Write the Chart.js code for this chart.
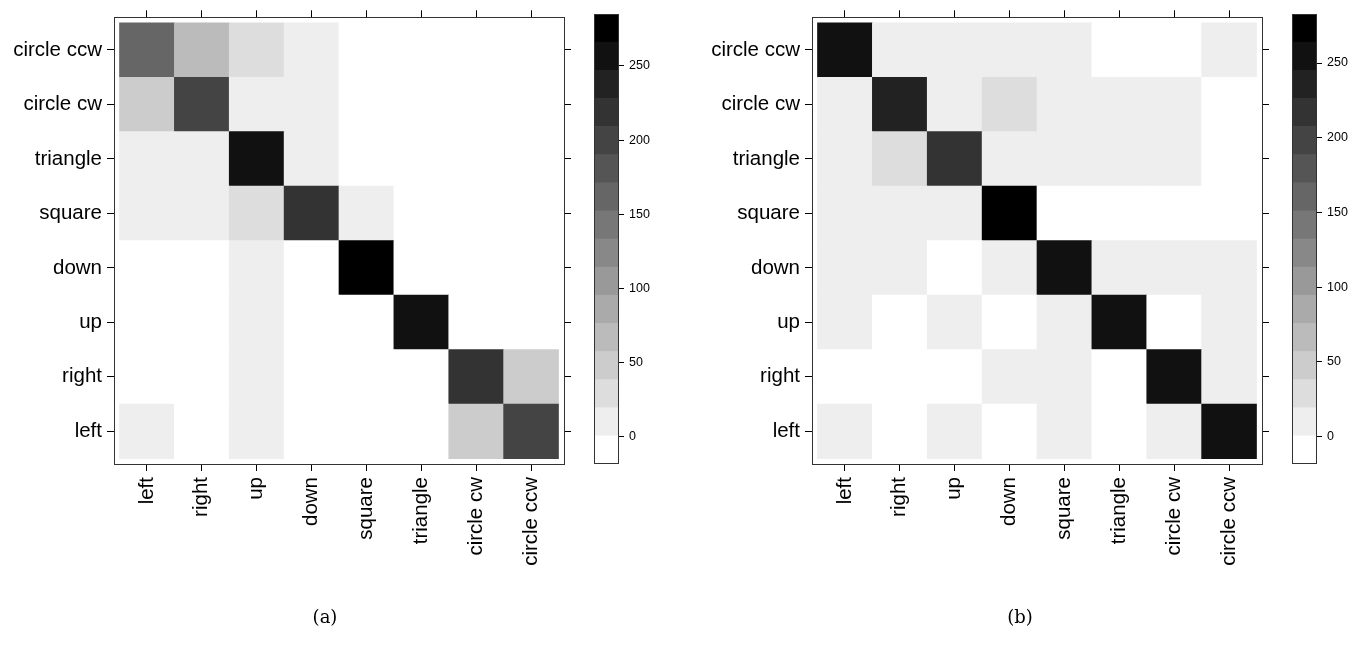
<!DOCTYPE html>
<html lang="en">
<head>
<meta charset="UTF-8">
<title>Gesture confusion matrices</title>
<script src="https://cdn.jsdelivr.net/npm/chart.js"></script>
<style>
  body { margin: 0; background: #fff; width: 1351px; height: 652px; position: relative; overflow: hidden; }
  canvas { position: absolute; top: 0; }
  .cap { position: absolute; top: 606px; font-family: 'DejaVu Serif', 'Liberation Serif', serif; font-size: 18px; color: #000; transform: translateX(-50%); }
</style>
</head>
<body>
<canvas id="heatA" width="580" height="652" style="left:0px"></canvas>
<canvas id="keyA" width="100" height="652" style="left:580px"></canvas>
<canvas id="heatB" width="580" height="652" style="left:698px"></canvas>
<canvas id="keyB" width="73" height="652" style="left:1278px"></canvas>
<div class="cap" style="left:325px">(a)</div>
<div class="cap" style="left:1020px">(b)</div>
<script>
// gesture classes, bottom-to-top on y and left-to-right on x
const classes = ['left', 'right', 'up', 'down', 'square', 'triangle', 'circle cw', 'circle ccw'];

// counts, one row per y class (bottom row first), columns follow x classes
const countsA = [
  [ 10,   0,  10,   0,   0,   0,  48, 198],  // left
  [  0,   0,  10,   0,   0,   0, 218,  48],  // right
  [  0,   0,  10,   0,   0, 256,   0,   0],  // up
  [  0,   0,  10,   0, 270,   0,   0,   0],  // down
  [ 10,  10,  29, 218,  10,   0,   0,   0],  // square
  [ 10,  10, 256,  10,   0,   0,   0,   0],  // triangle
  [ 48, 198,  10,  10,   0,   0,   0,   0],  // circle cw
  [162,  67,  29,  10,   0,   0,   0,   0]   // circle ccw
];
const countsB = [
  [ 10,   0,  10,   0,  10,   0,  10, 254],  // left
  [  0,   0,   0,  10,  10,   0, 254,  10],  // right
  [ 10,   0,  10,   0,  10, 254,   0,  10],  // up
  [ 10,  10,   0,  10, 254,  10,  10,  10],  // down
  [ 10,  10,  10, 270,   0,   0,   0,   0],  // square
  [ 10,  29, 216,  10,  10,  10,  10,   0],  // triangle
  [ 10, 235,  10,  29,  10,  10,  10,   0],  // circle cw
  [254,  10,  10,  10,  10,   0,   0,  10]   // circle ccw
];

// colour key
const keyTicks = [0, 50, 100, 150, 200, 250];
const keyRangeA = [-18.7, 285.1];
const keyRangeB = [-18.3, 282.8];
const grays = ['#ffffff', '#eeeeee', '#dddddd', '#cccccc', '#bbbbbb', '#aaaaaa', '#999999', '#888888',
               '#777777', '#666666', '#555555', '#444444', '#333333', '#222222', '#111111', '#000000'];

const FONT = "'Liberation Sans', Arial, sans-serif";
const FRAME = '#333';
const PAD = 0.1;

function shade(v, range) {
  const w = (range[1] - range[0]) / grays.length;
  const k = Math.floor((v - range[0]) / w);
  return grays[Math.max(0, Math.min(grays.length - 1, k))];
}

function classTicks(scale) {
  scale.ticks = classes.map((_, i) => ({ value: i + 1 }));
}

function axis(position, withLabels, size) {
  const horiz = position === 'top' || position === 'bottom';
  return {
    type: 'linear',
    position: position,
    offset: false,
    min: 0.5 - PAD,
    max: classes.length + 0.5 + PAD,
    afterBuildTicks: classTicks,
    afterFit: s => { if (horiz) s.height = size; else s.width = size; },
    grid: { offset: false, drawOnChartArea: false, drawTicks: true, tickLength: 7, color: '#000', lineWidth: 1 },
    border: { display: true, color: FRAME, width: 1 },
    ticks: {
      display: withLabels,
      autoSkip: false,
      padding: horiz ? 6 : 5,
      color: '#000',
      font: { family: FONT, size: 20.5 },
      maxRotation: 90,
      minRotation: horiz ? 90 : 0,
      callback: (v, i) => classes[i]
    }
  };
}

function heatmap(id, counts, range) {
  const datasets = counts.map((row, r) => ({
    label: classes[r],
    data: row.map((v, j) => ({ x: j + 1, y: [r + 0.5, r + 1.5] })),
    backgroundColor: row.map(v => shade(v, range)),
    borderWidth: 0,
    grouped: false,
    barPercentage: 1,
    categoryPercentage: 1
  }));
  new Chart(document.getElementById(id), {
    type: 'bar',
    data: { datasets },
    options: {
      responsive: false,
      animation: false,
      layout: { padding: { left: 0, top: 7, right: 9, bottom: 38 } },
      plugins: { legend: { display: false }, tooltip: { enabled: false } },
      scales: {
        x: axis('bottom', true, 150),
        xTop: Object.assign(axis('top', false, 7), { axis: 'x' }),
        y: axis('left', true, 114),
        yRight: Object.assign(axis('right', false, 7), { axis: 'y' })
      }
    }
  });
}

// outline round the colour key
const keyFrame = {
  id: 'keyFrame',
  afterDraw(chart) {
    const a = chart.chartArea, ctx = chart.ctx;
    ctx.save();
    ctx.strokeStyle = FRAME;
    ctx.lineWidth = 1;
    ctx.strokeRect(Math.round(a.left) + 0.5, Math.round(a.top) + 0.5,
                   Math.round(a.right - a.left), Math.round(a.bottom - a.top) - 1);
    ctx.restore();
  }
};

function colorKey(id, range, rightWidth) {
  const w = (range[1] - range[0]) / grays.length;
  const datasets = grays.map((g, k) => ({
    data: [[range[0] + k * w, range[0] + (k + 1) * w]],
    backgroundColor: g,
    borderWidth: 0,
    grouped: false,
    barPercentage: 1,
    categoryPercentage: 1
  }));
  new Chart(document.getElementById(id), {
    type: 'bar',
    data: { labels: [''], datasets },
    plugins: [keyFrame],
    options: {
      responsive: false,
      animation: false,
      layout: { padding: { left: 14, top: 14, right: 0, bottom: 188 } },
      plugins: { legend: { display: false }, tooltip: { enabled: false } },
      scales: {
        x: { display: false },
        y: {
          type: 'linear',
          position: 'right',
          min: range[0],
          max: range[1],
          afterBuildTicks: s => { s.ticks = keyTicks.map(v => ({ value: v })); },
          afterFit: s => { s.width = rightWidth; },
          grid: { drawOnChartArea: false, drawTicks: true, tickLength: 6, color: '#000' },
          border: { display: false },
          ticks: { padding: 5, color: '#000', font: { family: FONT, size: 12.5 }, callback: v => v }
        }
      }
    }
  });
}

heatmap('heatA', countsA, keyRangeA);
colorKey('keyA', keyRangeA, 62);
heatmap('heatB', countsB, keyRangeB);
colorKey('keyB', keyRangeB, 35);
</script>
</body>
</html>
